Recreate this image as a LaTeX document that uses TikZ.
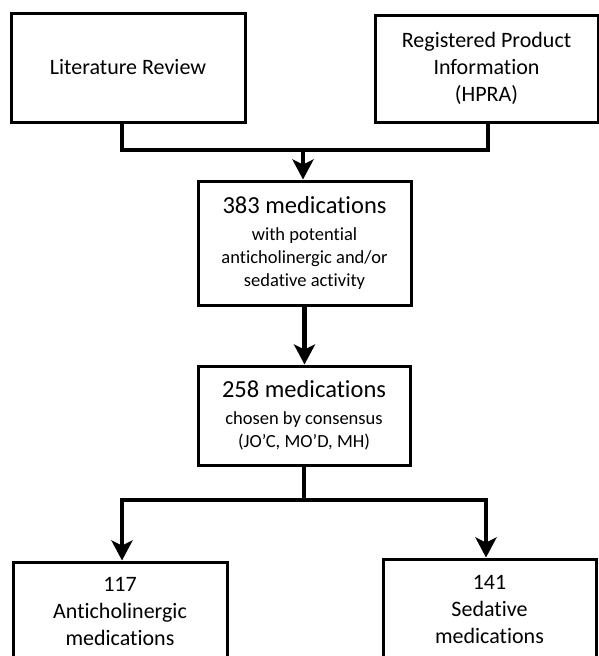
\documentclass[tikz,border=0pt]{standalone}
\usepackage{fontspec}
\setmainfont{Carlito}[Ligatures=NoCommon]
\usetikzlibrary{positioning,calc,arrows.meta}

\begin{document}
\begin{tikzpicture}[x=1pt,y=-1pt,
    box/.style={draw, line width=3pt, align=center, inner sep=0pt, font=\fontsize{22}{27}\selectfont},
    smallbox/.style={box, font=\fontsize{18.5}{23}\selectfont},
    link/.style={line width=4.5pt},
    arr/.style={line width=4.5pt, -{Stealth[length=20pt,width=21pt,inset=5pt]}}]
    \useasboundingbox (0,0) rectangle (599,656);
    \clip (0,0) rectangle (599,656);

    % Sources
    \node[box, minimum width=234pt, minimum height=109pt] (lit) at (128,67.5) {Literature Review};
    \node[box, minimum width=223pt, minimum height=107pt] (reg) at (486.5,68.5) {Registered Product\\Information\\(HPRA)};

    % Medication lists
    \node[smallbox, minimum width=213pt, minimum height=124pt] (all) at (304.5,243)
        {{\fontsize{24.5}{29}\selectfont 383 medications}\\[4pt] with potential\\ anticholinergic and/or\\ sedative activity};
    \node[smallbox, minimum width=212pt, minimum height=99pt] (list) at (304,415.5)
        {{\fontsize{24.5}{29}\selectfont 258 medications}\\[4pt] chosen by consensus\\ (JO’C, MO’D, MH)};

    % Groups (cut off at the bottom)
    \node[box, minimum width=214pt, minimum height=98pt] (ach) at (120,611) {117\\Anticholinergic\\medications};
    \node[box, minimum width=213pt, minimum height=100pt] (sed) at (489.5,609) {141\\Sedative\\medications};

    % Connectors
    \coordinate (join) at (303,150);
    \coordinate (split) at (303,500);
    \draw[link] ([xshift=-6pt]lit.south) |- (join) -| ([xshift=1.5pt]reg.south);
    \draw[arr] (join) -- (join |- all.north);
    \draw[arr] (all.south) -- (all.south |- list.north);
    \draw[link] (list.south) -- (list.south |- split);
    \draw[arr] (split) -| ([xshift=2pt]ach.north);
    \draw[arr] (split) -| ([xshift=-3.5pt]sed.north);
\end{tikzpicture}
\end{document}
